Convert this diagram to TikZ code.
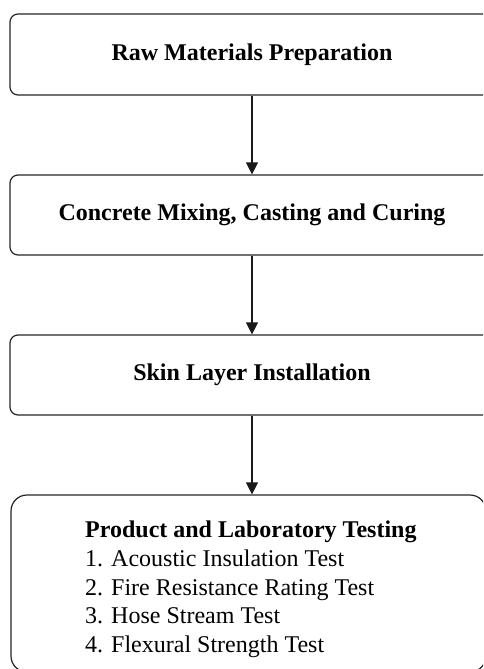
\documentclass[tikz,border=0pt]{standalone}
\usepackage{fontspec}
\setmainfont{Liberation Serif}
\usetikzlibrary{arrows.meta}
\tikzset{
  stepbox/.style={draw=black!85, line width=1.2pt, rounded corners=8pt, rectangle,
    minimum width=484pt, minimum height=80pt, inner sep=0pt,
    font=\fontsize{24}{28}\selectfont\bfseries},
  bigbox/.style={draw=black!85, line width=1.2pt, rounded corners=16pt, rectangle,
    minimum width=475pt, minimum height=177pt, inner sep=0pt},
  arr/.style={line width=1.2pt, draw=black!90, -{Triangle[width=12pt,length=12pt]}}
}
\begin{document}
\begin{tikzpicture}[x=1pt,y=-1pt]
\useasboundingbox (0,0) rectangle (483,669);
\clip (0,0) rectangle (483,669);
\fill[white] (0,0) rectangle (483,669);
\node[stepbox, minimum height=81pt] (b1) at (252,54.5) {\raisebox{-2pt}{Raw Materials Preparation}};
\node[stepbox] (b2) at (252,215) {\raisebox{-1pt}{Concrete Mixing, Casting and Curing}};
\node[stepbox] (b3) at (252,375) {Skin Layer Installation};
\node[bigbox] (b4) at (248.5,583.5) {};
\node[anchor=north west, inner sep=0pt, align=left,
  font=\fontsize{24}{28.7}\selectfont] (t4) at (85,521)
  {\textbf{Product and Laboratory Testing}\\
   1. Acoustic Insulation Test\\
   2. Fire Resistance Rating Test\\
   3. Hose Stream Test\\
   4. Flexural Strength Test};
\draw[arr] (b1.south) -- (b2.north);
\draw[arr] (b2.south) -- (b3.north);
\draw[arr] (b3.south) -- (b3.south |- b4.north);
\end{tikzpicture}
\end{document}
